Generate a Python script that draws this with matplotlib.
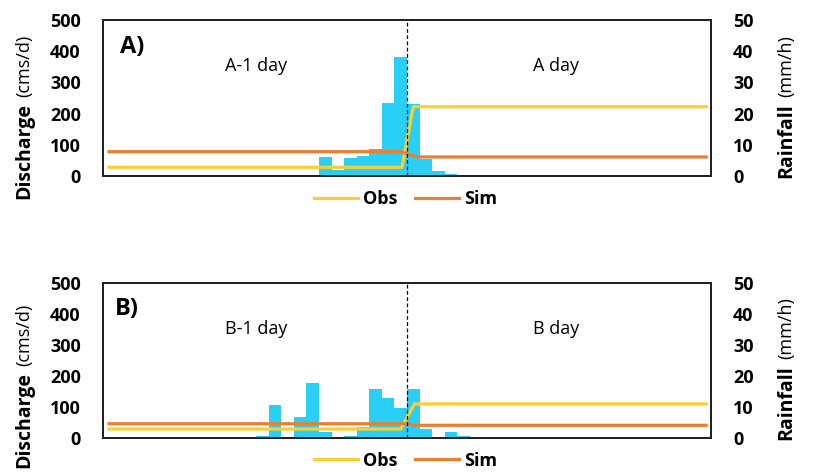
"""
Discharge (Obs/Sim) and hourly rainfall for two events, A and B
"""

import numpy as np
import matplotlib.pyplot as plt

plt.rcParams['font.family'] = ['Open Sans', 'DejaVu Sans']

# hourly rainfall (mm/h), hour 0..47
hours = np.arange(48)
rain_a = [0, 0, 0, 0, 0, 0, 0, 0, 0, 0, 0, 0, 0, 0, 0, 0, 0,
          6.0, 2.0, 5.8, 6.3, 8.6, 23.3, 38.0, 23.0, 5.3, 1.5, 0.8,
          0, 0, 0, 0, 0, 0, 0, 0, 0, 0, 0, 0, 0, 0, 0, 0, 0, 0, 0, 0]
rain_b = [0, 0, 0, 0, 0, 0, 0, 0, 0, 0, 0, 0,
          0.7, 10.7, 0, 6.7, 17.8, 1.9, 0, 0.7, 3.6, 15.7, 12.8, 9.8,
          15.7, 2.9, 0, 1.8, 0.7,
          0, 0, 0, 0, 0, 0, 0, 0, 0, 0, 0, 0, 0, 0, 0, 0, 0, 0, 0]

# discharge (cms/d), read at the break points of each line
obs_a_t = [0.3, 23.6, 24.5, 47.8]
obs_a = [28, 28, 222, 222]
sim_a_t = [0.3, 23.5, 24.8, 47.8]
sim_a = [78, 78, 61, 61]
obs_b_t = [0.3, 23.5, 24.6, 47.8]
obs_b = [29, 29, 110, 110]
sim_b_t = [0.3, 23.8, 24.8, 47.8]
sim_b = [46, 46, 41, 41]

c_rain = '#2ACFF5'
c_obs = '#FFCE2E'
c_sim = '#ED7D31'

W, H = 816, 472
fig = plt.figure(figsize=(W/100, H/100), dpi=100)
titles = []


def panel(top_px, bot_px, rain, obs_t, obs, sim_t, sim, tag, tag_x, lab_off):
    ax = fig.add_axes([103/W, 1-bot_px/H, 608/W, (bot_px-top_px)/H])
    ax2 = ax.twinx()
    ax2.bar(hours, rain, width=1.0, align='edge', color=c_rain, lw=0)
    ax2.set_ylim(0, 50)
    ax2.set_yticks(np.arange(0, 51, 10))

    ax.set_zorder(ax2.get_zorder()+1)
    ax.patch.set_visible(False)
    ax.plot(obs_t, obs, color=c_obs, lw=2.3, label='Obs')
    ax.plot(sim_t, sim, color=c_sim, lw=2.3, label='Sim')
    ax.axvline(24, color='black', lw=0.9, ls=(0, (3, 2)))
    ax.set_xlim(-0.18, 48.18)
    ax.set_ylim(0, 500)
    ax.set_yticks(np.arange(0, 501, 100))
    ax.set_xticks([])

    for a in (ax, ax2):
        a.tick_params(length=0, labelsize=13)
        for lab in a.get_yticklabels():
            lab.set_fontweight('bold')
        for s in a.spines.values():
            s.set_color('#222222')
            s.set_linewidth(1.4)
    ax.tick_params(axis='y', pad=16)
    ax2.tick_params(axis='y', pad=16)

    ax.text(tag_x, 0.83, tag + ')', transform=ax.transAxes, fontsize=17,
            fontweight='bold', ha='left', va='center')
    ax.text(0.252, 0.705, tag + '-1 day', transform=ax.transAxes,
            fontsize=13, ha='center', va='center')
    ax.text(0.745, 0.705, tag + ' day', transform=ax.transAxes,
            fontsize=13, ha='center', va='center')

    ax.legend(loc='center', bbox_to_anchor=(0.498, -0.147), ncol=2,
              frameon=False, handlelength=2.4, handletextpad=0.3,
              columnspacing=1.0, prop={'weight': 'bold', 'size': 13})

    # split axis titles: bold name, unit placed after it below
    t1 = fig.text(29/W, 1 - (bot_px + lab_off)/H, 'Discharge', rotation=90,
                  rotation_mode='anchor', ha='left', va='baseline',
                  fontsize=14, fontweight='bold')
    t2 = fig.text(791/W, 1 - (bot_px + 2)/H, 'Rainfall', rotation=90,
                  rotation_mode='anchor', ha='left', va='baseline',
                  fontsize=14, fontweight='bold')
    titles.append((t1, '(cms/d)'))
    titles.append((t2, '(mm/h)'))
    return ax


panel(20, 176, rain_a, obs_a_t, obs_a, sim_a_t, sim_a, 'A', 0.028, 23)
panel(283, 438, rain_b, obs_b_t, obs_b, sim_b_t, sim_b, 'B', 0.02, 30)

fig.canvas.draw()
r = fig.canvas.get_renderer()
for t, unit in titles:
    bb = t.get_window_extent(r)
    x0, y0 = t.get_position()
    fig.text(x0, (bb.y1 + 6)/H, unit, rotation=90, rotation_mode='anchor',
             ha='left', va='baseline', fontsize=13)

fig.savefig('out.png', dpi=100)
